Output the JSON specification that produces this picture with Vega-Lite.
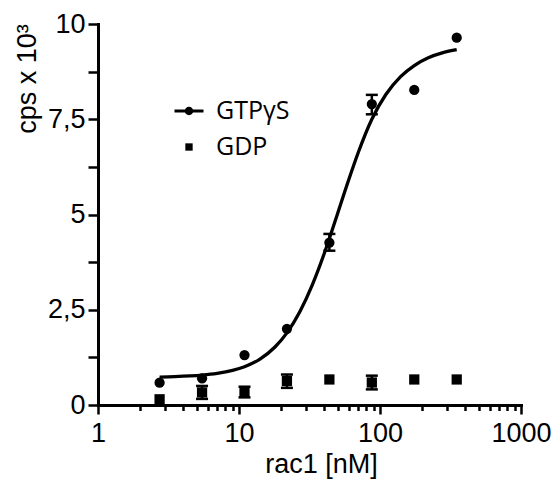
{
  "$schema": "https://vega.github.io/schema/vega-lite/v6.json",
  "width": 423,
  "height": 381,
  "autosize": {"type": "none"},
  "padding": {"left": 98, "top": 24, "right": 37, "bottom": 75},
  "config": {
    "view": {"stroke": null},
    "font": "Liberation Sans",
    "axis": {
      "domainColor": "black",
      "tickColor": "black",
      "labelColor": "black",
      "titleColor": "black",
      "domainWidth": 3,
      "tickWidth": 2.5,
      "grid": false,
      "labelFont": "Liberation Sans",
      "titleFont": "Liberation Sans",
      "labelFontSize": 27,
      "titleFontSize": 27,
      "titleFontWeight": "normal",
      "domainCap": "square"
    }
  },
  "datasets": {
    "points": [
      {"series": "GTPγS", "conc": 2.734, "value": 0.585},
      {"series": "GTPγS", "conc": 5.47, "value": 0.70},
      {"series": "GTPγS", "conc": 10.94, "value": 1.31},
      {"series": "GTPγS", "conc": 21.875, "value": 2.0},
      {"series": "GTPγS", "conc": 43.75, "value": 4.26},
      {"series": "GTPγS", "conc": 87.5, "value": 7.9},
      {"series": "GTPγS", "conc": 175, "value": 8.27},
      {"series": "GTPγS", "conc": 350, "value": 9.64},
      {"series": "GDP", "conc": 2.734, "value": 0.15},
      {"series": "GDP", "conc": 5.47, "value": 0.33},
      {"series": "GDP", "conc": 10.94, "value": 0.34},
      {"series": "GDP", "conc": 21.875, "value": 0.63},
      {"series": "GDP", "conc": 43.75, "value": 0.67},
      {"series": "GDP", "conc": 87.5, "value": 0.59},
      {"series": "GDP", "conc": 175, "value": 0.67},
      {"series": "GDP", "conc": 350, "value": 0.67}
    ],
    "errors": [
      {"series": "GTPγS", "conc": 43.75, "lo": 4.05, "hi": 4.49},
      {"series": "GTPγS", "conc": 87.5, "lo": 7.63, "hi": 8.14},
      {"series": "GDP", "conc": 5.47, "lo": 0.16, "hi": 0.5},
      {"series": "GDP", "conc": 10.94, "lo": 0.2, "hi": 0.48},
      {"series": "GDP", "conc": 21.875, "lo": 0.45, "hi": 0.8},
      {"series": "GDP", "conc": 87.5, "lo": 0.41, "hi": 0.77}
    ],
    "curve": [
      {"conc": 2.734, "value": 0.734},
      {"conc": 3.5, "value": 0.744},
      {"conc": 4.5, "value": 0.762},
      {"conc": 5.47, "value": 0.784},
      {"conc": 7, "value": 0.829},
      {"conc": 9, "value": 0.908},
      {"conc": 10.94, "value": 1.005},
      {"conc": 14, "value": 1.2},
      {"conc": 18, "value": 1.522},
      {"conc": 21.875, "value": 1.893},
      {"conc": 27, "value": 2.448},
      {"conc": 33, "value": 3.141},
      {"conc": 40, "value": 3.95},
      {"conc": 43.75, "value": 4.37},
      {"conc": 50, "value": 5.02},
      {"conc": 60, "value": 5.91},
      {"conc": 70, "value": 6.62},
      {"conc": 87.5, "value": 7.5},
      {"conc": 110, "value": 8.15},
      {"conc": 140, "value": 8.62},
      {"conc": 175, "value": 8.91},
      {"conc": 220, "value": 9.113},
      {"conc": 280, "value": 9.249},
      {"conc": 350, "value": 9.326}
    ]
  },
  "resolve": {
    "axis": {"x": "independent", "y": "independent"},
    "scale": {"shape": "independent", "size": "independent"},
    "legend": {"shape": "independent", "size": "independent"}
  },
  "layer": [
    {
      "data": {"name": "curve"},
      "mark": {"type": "line", "color": "black", "strokeWidth": 3.3, "interpolate": "monotone"},
      "encoding": {
        "x": {
          "field": "conc", "type": "quantitative",
          "scale": {"type": "log", "domain": [1, 1000]},
          "axis": {
            "orient": "bottom",
            "values": [1, 10, 100, 1000],
            "labelExpr": "toString(datum.value)",
            "tickSize": 9,
            "labelBaseline": "alphabetic",
            "labelPadding": 27,
            "labelFlush": false,
            "labelOverlap": false,
            "title": "rac1 [nM]",
            "titleX": 223,
            "titleY": 67,
            "titleAlign": "center",
            "titleBaseline": "alphabetic",
            "titleAnchor": null
          }
        },
        "y": {
          "field": "value", "type": "quantitative",
          "scale": {"domain": [0, 10]},
          "axis": {
            "values": [0, 1.25, 2.5, 3.75, 5, 6.25, 7.5, 8.75, 10],
            "labelExpr": "datum.value % 2.5 === 0 ? replace(toString(datum.value), '.', ',') : ''",
            "tickSize": 10,
            "labelPadding": 3,
            "labelFlush": false,
            "labelOverlap": false,
            "title": "cps x 10³",
            "titleX": -63,
            "titleY": 54.5,
            "titleAngle": 270,
            "titleAlign": "center",
            "titleBaseline": "alphabetic"
          }
        }
      }
    },
    {
      "data": {"name": "curve"},
      "mark": {"type": "line", "opacity": 0},
      "encoding": {
        "x": {
          "field": "conc", "type": "quantitative",
          "axis": {
            "orient": "bottom",
            "values": [2, 3, 4, 5, 6, 7, 8, 9, 20, 30, 40, 50, 60, 70, 80, 90, 200, 300, 400, 500, 600, 700, 800, 900],
            "tickSize": 5.5,
            "labels": false,
            "domain": false,
            "title": null
          }
        },
        "y": {"field": "value", "type": "quantitative", "axis": null}
      }
    },
    {
      "data": {"name": "errors"},
      "mark": {"type": "rule", "color": "black", "strokeWidth": 2.5},
      "encoding": {
        "x": {"field": "conc", "type": "quantitative", "axis": null},
        "y": {"field": "lo", "type": "quantitative", "axis": null},
        "y2": {"field": "hi"}
      }
    },
    {
      "data": {"name": "errors"},
      "mark": {"type": "tick", "orient": "horizontal", "color": "black", "size": 12, "thickness": 2.5, "opacity": 1},
      "encoding": {
        "x": {"field": "conc", "type": "quantitative", "axis": null},
        "y": {"field": "lo", "type": "quantitative", "axis": null}
      }
    },
    {
      "data": {"name": "errors"},
      "mark": {"type": "tick", "orient": "horizontal", "color": "black", "size": 12, "thickness": 2.5, "opacity": 1},
      "encoding": {
        "x": {"field": "conc", "type": "quantitative", "axis": null},
        "y": {"field": "hi", "type": "quantitative", "axis": null}
      }
    },
    {
      "data": {"name": "points"},
      "mark": {"type": "point", "filled": true, "opacity": 1, "color": "black", "strokeWidth": 0, "size": 105},
      "encoding": {
        "x": {"field": "conc", "type": "quantitative", "axis": null},
        "y": {"field": "value", "type": "quantitative", "axis": null},
        "shape": {
          "field": "series", "type": "nominal",
          "scale": {"domain": ["GTPγS", "GDP"], "range": ["circle", "square"]},
          "legend": null
        }
      }
    },
    {
      "data": {"name": "points"},
      "mark": {"type": "point", "filled": true, "opacity": 0, "color": "black", "strokeWidth": 0},
      "encoding": {
        "x": {"field": "conc", "type": "quantitative", "axis": null},
        "y": {"field": "value", "type": "quantitative", "axis": null},
        "shape": {
          "field": "series", "type": "nominal",
          "scale": {
            "domain": ["GTPγS", "GDP"],
            "range": ["M-1,-0.11L1,-0.11L1,0.11L-1,0.11Z M0.29,0A0.29,0.29 0 1 1 -0.29,0A0.29,0.29 0 1 1 0.29,0Z", "square"]
          },
          "legend": {
            "orient": "none",
            "legendX": 76.5,
            "legendY": 72.5,
            "title": null,
            "padding": 0,
            "labelFont": "Open Sans",
            "labelFontSize": 25,
            "labelColor": "black",
            "labelOffset": 12.5,
            "rowPadding": 10,
            "symbolStrokeWidth": 0,
            "symbolFillColor": "black",
            "symbolOpacity": 1
          }
        },
        "size": {
          "field": "series", "type": "nominal",
          "scale": {"domain": ["GTPγS", "GDP"], "range": [841, 54]},
          "legend": {
            "orient": "none",
            "legendX": 76.5,
            "legendY": 72.5,
            "title": null,
            "padding": 0,
            "labelFont": "Open Sans",
            "labelFontSize": 25,
            "labelColor": "black",
            "labelOffset": 12.5,
            "rowPadding": 10,
            "symbolStrokeWidth": 0,
            "symbolFillColor": "black",
            "symbolOpacity": 1
          }
        }
      }
    }
  ]
}
